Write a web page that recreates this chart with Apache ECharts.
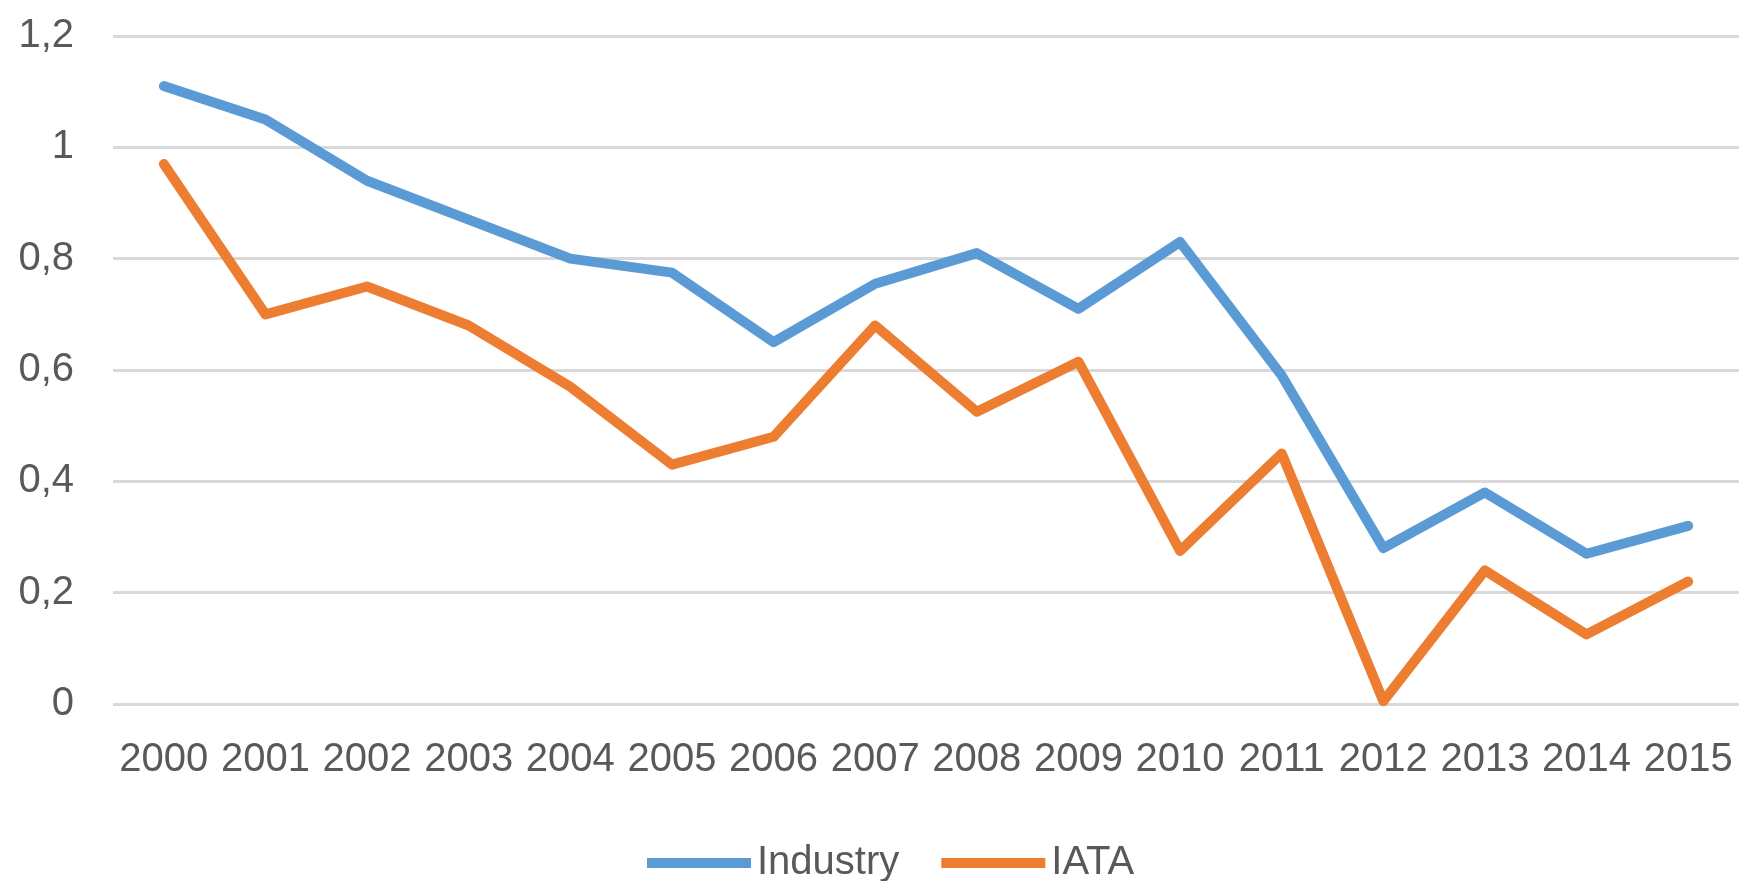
<!DOCTYPE html>
<html>
<head>
<meta charset="utf-8">
<script src="https://cdn.jsdelivr.net/npm/echarts@6/dist/echarts.min.js"></script>
<style>
html,body{margin:0;padding:0;background:#fff;}
#chart{width:1742px;height:881px;}
</style>
</head>
<body>
<div id="chart"></div>
<script>
const years = ['2000','2001','2002','2003','2004','2005','2006','2007','2008','2009','2010','2011','2012','2013','2014','2015'];
const industry = [1.11, 1.05, 0.94, 0.87, 0.80, 0.775, 0.65, 0.755, 0.81, 0.71, 0.83, 0.59, 0.28, 0.38, 0.27, 0.32];
const iata = [0.97, 0.70, 0.75, 0.68, 0.57, 0.43, 0.48, 0.68, 0.525, 0.615, 0.275, 0.45, 0.005, 0.24, 0.125, 0.22];
const seriesNames = ['Industry', 'IATA'];
const yTicks = { min: 0, max: 1.2, interval: 0.2 };

const FONT = '"Liberation Sans", Arial, sans-serif';
const TXT = '#595959';

const chart = echarts.init(document.getElementById('chart'), null, { renderer: 'canvas' });
chart.setOption({
  animation: false,
  backgroundColor: '#ffffff',
  grid: { left: 113, right: 3, top: 36, bottom: 177, containLabel: false },
  legend: {
    data: seriesNames,
    left: 647,
    top: 840,
    padding: 0,
    icon: 'rect',
    itemWidth: 104,
    itemHeight: 10,
    itemGap: 42,
    textStyle: { fontFamily: FONT, fontSize: 40, color: TXT, lineHeight: 46, padding: [0, 0, 0, 1] }
  },
  xAxis: {
    type: 'category',
    data: years,
    boundaryGap: true,
    axisLine: { show: false },
    axisTick: { show: false },
    axisLabel: { fontFamily: FONT, fontSize: 40, color: TXT, margin: 36, interval: 0 },
    splitLine: { show: false }
  },
  yAxis: {
    type: 'value',
    min: yTicks.min,
    max: yTicks.max,
    interval: yTicks.interval,
    axisLine: { show: false },
    axisTick: { show: false },
    axisLabel: {
      fontFamily: FONT, fontSize: 40, color: TXT, margin: 39,
      formatter: v => String(Math.round(v * 10) / 10).replace('.', ',')
    },
    splitLine: { lineStyle: { color: '#d9d9d9', width: 3 } }
  },
  series: [
    {
      name: seriesNames[0], type: 'line', data: industry,
      showSymbol: false, symbol: 'none',
      lineStyle: { color: '#5B9BD5', width: 10, join: 'round', cap: 'round' },
      itemStyle: { color: '#5B9BD5' }
    },
    {
      name: seriesNames[1], type: 'line', data: iata,
      showSymbol: false, symbol: 'none',
      lineStyle: { color: '#ED7D31', width: 10, join: 'round', cap: 'round' },
      itemStyle: { color: '#ED7D31' }
    }
  ]
});
</script>
</body>
</html>
